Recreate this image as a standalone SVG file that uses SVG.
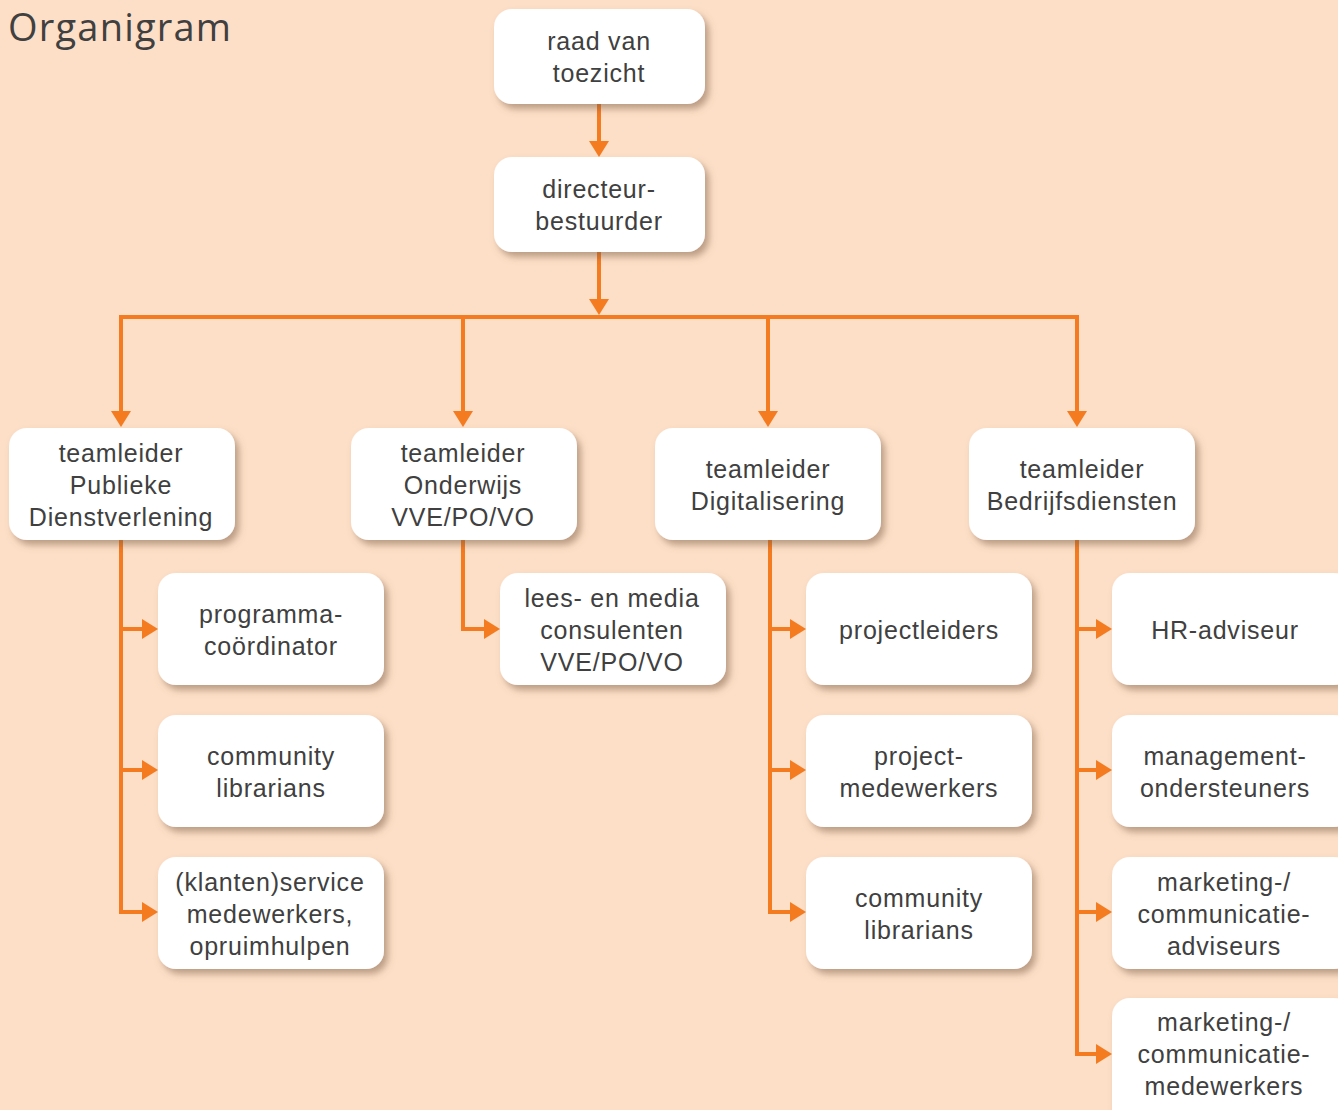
<svg xmlns="http://www.w3.org/2000/svg" width="1338" height="1110" viewBox="0 0 1338 1110">
<style>
.box{fill:#fff;filter:url(#sh)}
.t{font-family:"Liberation Sans",Arial,sans-serif;font-size:25px;letter-spacing:0.8px;fill:#404040;text-anchor:middle}
.c{fill:none;stroke:#F47B20;stroke-width:4}
.a{marker-end:url(#ah)}
</style>
<defs>
<filter id="sh" x="-10%" y="-10%" width="125%" height="130%">
<feDropShadow dx="4" dy="5" stdDeviation="3.5" flood-color="#7a5a40" flood-opacity="0.5"/>
</filter>
<marker id="ah" markerUnits="userSpaceOnUse" markerWidth="20" markerHeight="20" viewBox="0 0 16 20" refX="7" refY="10" orient="auto">
<path d="M0,0 L16,10 L0,20 z" fill="#F47B20"/>
</marker>
</defs>
<rect width="1338" height="1110" fill="#FDDFC7"/>
<text x="8" y="41" font-family="'Open Sans',sans-serif" font-size="38" letter-spacing="1.2" fill="#404040">Organigram</text>

<g id="connectors">
<path class="c a" d="M599 104 V148"/>
<path class="c a" d="M599 252 V306"/>
<path class="c" d="M121 317 H1077" stroke-linecap="square"/>
<path class="c a" d="M121 317 V418"/>
<path class="c a" d="M463 317 V418"/>
<path class="c a" d="M768 317 V418"/>
<path class="c a" d="M1077 317 V418"/>
<path class="c" d="M121 540 V912"/>
<path class="c a" d="M121 629 H149"/>
<path class="c a" d="M121 770 H149"/>
<path class="c a" d="M119 912 H149"/>
<path class="c a" d="M463 540 V629 H491"/>
<path class="c" d="M770 540 V912"/>
<path class="c a" d="M770 629 H797"/>
<path class="c a" d="M770 770 H797"/>
<path class="c a" d="M768 912 H797"/>
<path class="c" d="M1077 540 V1054"/>
<path class="c a" d="M1077 629 H1103"/>
<path class="c a" d="M1077 770 H1103"/>
<path class="c a" d="M1077 912 H1103"/>
<path class="c a" d="M1075 1054 H1103"/>
</g>

<g id="raad"><rect class="box" x="494" y="9" width="211" height="95" rx="18"/><text class="t" x="599" y="50">raad van</text><text class="t" x="599" y="82">toezicht</text></g>
<g id="directeur"><rect class="box" x="494" y="157" width="211" height="95" rx="18"/><text class="t" x="599" y="198">directeur-</text><text class="t" x="599" y="230">bestuurder</text></g>

<g id="tl-publiek"><rect class="box" x="9" y="428" width="226" height="112" rx="18"/><text class="t" x="121" y="462">teamleider</text><text class="t" x="121" y="494">Publieke</text><text class="t" x="121" y="526">Dienstverlening</text></g>
<g id="tl-onderwijs"><rect class="box" x="351" y="428" width="226" height="112" rx="18"/><text class="t" x="463" y="462">teamleider</text><text class="t" x="463" y="494">Onderwijs</text><text class="t" x="463" y="526">VVE/PO/VO</text></g>
<g id="tl-digi"><rect class="box" x="655" y="428" width="226" height="112" rx="18"/><text class="t" x="768" y="478">teamleider</text><text class="t" x="768" y="510">Digitalisering</text></g>
<g id="tl-bedrijf"><rect class="box" x="969" y="428" width="226" height="112" rx="18"/><text class="t" x="1082" y="478">teamleider</text><text class="t" x="1082" y="510">Bedrijfsdiensten</text></g>

<g id="programma"><rect class="box" x="158" y="573" width="226" height="112" rx="18"/><text class="t" x="271" y="623">programma-</text><text class="t" x="271" y="655">coördinator</text></g>
<g id="community1"><rect class="box" x="158" y="715" width="226" height="112" rx="18"/><text class="t" x="271" y="765">community</text><text class="t" x="271" y="797">librarians</text></g>
<g id="klanten"><rect class="box" x="158" y="857" width="226" height="112" rx="18"/><text class="t" x="270" y="891">(klanten)service</text><text class="t" x="270" y="923">medewerkers,</text><text class="t" x="270" y="955">opruimhulpen</text></g>

<g id="lees"><rect class="box" x="500" y="573" width="226" height="112" rx="18"/><text class="t" x="612" y="607">lees- en media</text><text class="t" x="612" y="639">consulenten</text><text class="t" x="612" y="671">VVE/PO/VO</text></g>

<g id="projectleiders"><rect class="box" x="806" y="573" width="226" height="112" rx="18"/><text class="t" x="919" y="639">projectleiders</text></g>
<g id="projectmedewerkers"><rect class="box" x="806" y="715" width="226" height="112" rx="18"/><text class="t" x="919" y="765">project-</text><text class="t" x="919" y="797">medewerkers</text></g>
<g id="community2"><rect class="box" x="806" y="857" width="226" height="112" rx="18"/><text class="t" x="919" y="907">community</text><text class="t" x="919" y="939">librarians</text></g>

<g id="hr"><rect class="box" x="1112" y="573" width="240" height="112" rx="18"/><text class="t" x="1225" y="639">HR-adviseur</text></g>
<g id="management"><rect class="box" x="1112" y="715" width="240" height="112" rx="18"/><text class="t" x="1225" y="765">management-</text><text class="t" x="1225" y="797">ondersteuners</text></g>
<g id="mc-adviseurs"><rect class="box" x="1112" y="857" width="240" height="112" rx="18"/><text class="t" x="1224" y="891">marketing-/</text><text class="t" x="1224" y="923">communicatie-</text><text class="t" x="1224" y="955">adviseurs</text></g>
<g id="mc-medewerkers"><rect class="box" x="1112" y="998" width="240" height="130" rx="18"/><text class="t" x="1224" y="1031">marketing-/</text><text class="t" x="1224" y="1063">communicatie-</text><text class="t" x="1224" y="1095">medewerkers</text></g>
</svg>
